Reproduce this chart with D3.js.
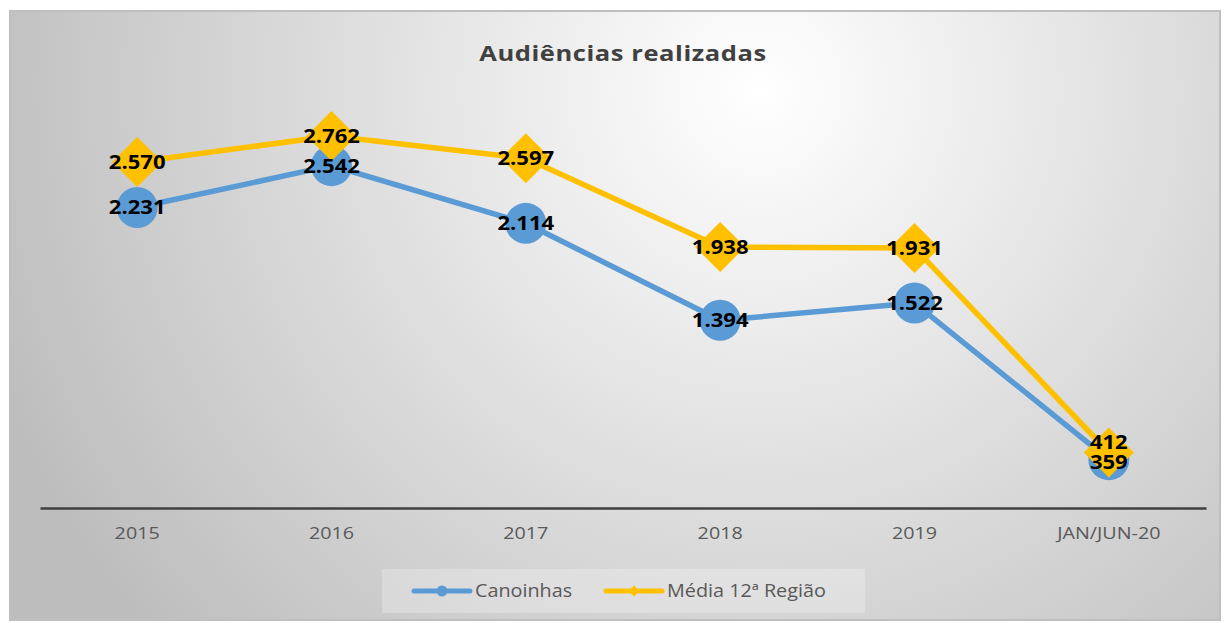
<!DOCTYPE html>
<html>
<head>
<meta charset="utf-8">
<script src="https://cdn.jsdelivr.net/npm/d3@7"></script>
<style>
  body { margin: 0; background: #fff; }
  text { font-family: "Open Sans", Lato, sans-serif; }
</style>
</head>
<body>
<div id="chart"></div>
<script>
// dados
const categories = ['2015', '2016', '2017', '2018', '2019', 'JAN/JUN-20'];
const canoinhas = [2231, 2542, 2114, 1394, 1522, 359];
const media12 = [2570, 2762, 2597, 1938, 1931, 412];
const seriesNames = ['Canoinhas', 'Média 12ª Região'];

const svgWidth = 1225;
const svgHeight = 623;
const sx = 1.16; // fonte um pouco mais larga, como no original
const svg = d3.select('#chart')
  .append('svg')
  .attr('width', svgWidth)
  .attr('height', svgHeight);

// fundo com gradiente radial
const defs = svg.append('defs');
const grad = defs.append('radialGradient')
  .attr('id', 'bg')
  .attr('gradientUnits', 'userSpaceOnUse')
  .attr('cx', 760).attr('cy', 90).attr('r', 820);
grad.append('stop').attr('offset', '0%').attr('stop-color', '#ffffff');
grad.append('stop').attr('offset', '100%').attr('stop-color', '#bdbdbd');

svg.append('rect')
  .attr('x', 10).attr('y', 11)
  .attr('width', 1210).attr('height', 609)
  .attr('fill', 'url(#bg)')
  .attr('stroke', '#bfbfbf')
  .attr('stroke-width', 2);

// título
svg.append('text')
  .attr('transform', `translate(623,61) scale(${sx},1)`)
  .attr('text-anchor', 'middle')
  .attr('font-size', 22)
  .attr('font-weight', 'bold')
  .attr('fill', '#404040')
  .attr('letter-spacing', 0.5)
  .text('Audiências realizadas');

// área do gráfico
const margin = { top: 104, left: 40, right: 19, bottom: 115 };
const width = svgWidth - margin.left - margin.right;
const height = svgHeight - margin.top - margin.bottom;
const graph = svg.append('g')
  .attr('transform', `translate(${margin.left},${margin.top})`);

const xScale = d3.scaleBand().domain(categories).range([0, width]);
const yScale = d3.scaleLinear().domain([0, 3000]).range([height, 0]);
const cx = d => xScale(d) + xScale.bandwidth() / 2;

// eixo x
const xAxis = graph.append('g')
  .attr('transform', `translate(0,${height})`)
  .call(d3.axisBottom(xScale).tickSize(0).tickPadding(19));
xAxis.select('.domain').attr('stroke', '#404040').attr('stroke-width', 2.5);
xAxis.selectAll('text')
  .attr('font-size', 17)
  .attr('fill', '#595959')
  .attr('transform', `scale(${sx},1)`)
  .style('font-family', '"Open Sans", Lato, sans-serif');

const locale = d3.formatLocale({ decimal: ',', thousands: '.', grouping: [3], currency: ['R$', ''] });
const fmt = locale.format(',d');

const line = d3.line()
  .x((d, i) => cx(categories[i]))
  .y(d => yScale(d));

const series = [
  { name: seriesNames[0], values: canoinhas, color: '#5b9bd5', shape: 'circle' },
  { name: seriesNames[1], values: media12, color: '#ffc000', shape: 'diamond' }
];

series.forEach(s => {
  graph.append('path')
    .datum(s.values)
    .attr('d', line)
    .attr('fill', 'none')
    .attr('stroke', s.color)
    .attr('stroke-width', 5.5)
    .attr('stroke-linejoin', 'round');

  if (s.shape === 'circle') {
    graph.selectAll('.pt-c')
      .data(s.values)
      .enter()
      .append('circle')
      .attr('cx', (d, i) => cx(categories[i]))
      .attr('cy', d => yScale(d))
      .attr('r', 20.5)
      .attr('fill', s.color);
  } else {
    graph.selectAll('.pt-d')
      .data(s.values)
      .enter()
      .append('path')
      .attr('d', d3.symbol().type(d3.symbolSquare).size(1250))
      .attr('transform', (d, i) => `translate(${cx(categories[i])},${yScale(d)}) rotate(45)`)
      .attr('fill', s.color);
  }
});

// rótulos de dados
series.forEach((s, si) => {
  graph.selectAll('.lbl' + si)
    .data(s.values)
    .enter()
    .append('text')
    .attr('transform', (d, i) => {
      let dy = 0;
      if (i === 5) dy = si === 1 ? -10 : 2;
      return `translate(${cx(categories[i])},${yScale(d) + dy}) scale(${sx},1)`;
    })
    .attr('dy', '0.36em')
    .attr('text-anchor', 'middle')
    .attr('font-size', 19)
    .attr('font-weight', 'bold')
    .attr('fill', '#000')
    .text(d => fmt(d));
});

// legenda
const legend = svg.append('g');
legend.append('rect')
  .attr('x', 382).attr('y', 569)
  .attr('width', 483).attr('height', 44)
  .attr('fill', '#ffffff')
  .attr('fill-opacity', 0.25);

const legendX = [414, 606];
series.forEach((s, i) => {
  const g = legend.append('g').attr('transform', `translate(${legendX[i]},591)`);
  g.append('line')
    .attr('x1', 0).attr('x2', 56)
    .attr('stroke', s.color)
    .attr('stroke-width', 5)
    .attr('stroke-linecap', 'round');
  if (s.shape === 'circle') {
    g.append('circle').attr('cx', 28).attr('r', 5.5).attr('fill', s.color);
  } else {
    g.append('path')
      .attr('d', d3.symbol().type(d3.symbolSquare).size(60))
      .attr('transform', 'translate(28,0) rotate(45)')
      .attr('fill', s.color);
  }
  g.append('text')
    .attr('transform', `translate(61,0) scale(1.1,1)`)
    .attr('dy', '0.35em')
    .attr('font-size', 18)
    .attr('fill', '#595959')
    .text(s.name);
});
</script>
</body>
</html>
